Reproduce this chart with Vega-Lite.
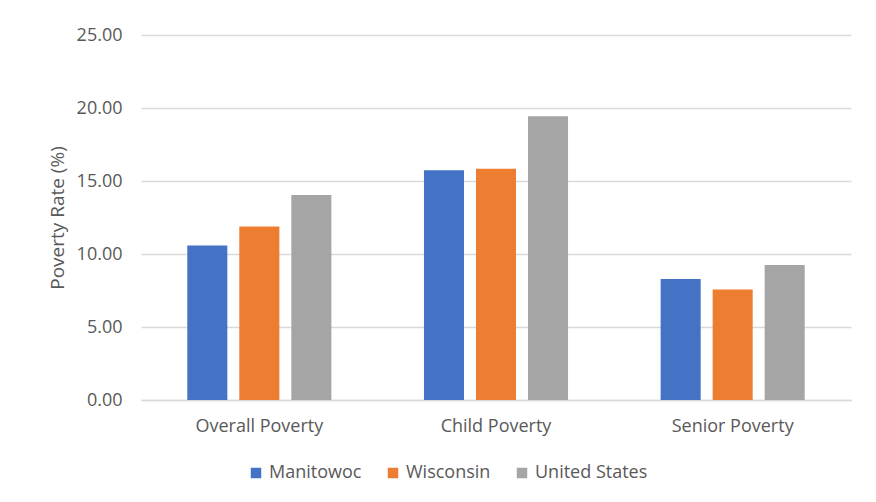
{
  "$schema": "https://vega.github.io/schema/vega-lite/v6.json",
  "width": 710,
  "height": 365,
  "autosize": {"type": "none"},
  "padding": {"left": 141, "top": 35, "right": 25, "bottom": 102},
  "background": "white",
  "data": {
    "values": [
      {"category": "Overall Poverty", "region": "Manitowoc", "rate": 10.58},
      {"category": "Overall Poverty", "region": "Wisconsin", "rate": 11.89},
      {"category": "Overall Poverty", "region": "United States", "rate": 14.04},
      {"category": "Child Poverty", "region": "Manitowoc", "rate": 15.73},
      {"category": "Child Poverty", "region": "Wisconsin", "rate": 15.84},
      {"category": "Child Poverty", "region": "United States", "rate": 19.43},
      {"category": "Senior Poverty", "region": "Manitowoc", "rate": 8.28},
      {"category": "Senior Poverty", "region": "Wisconsin", "rate": 7.57},
      {"category": "Senior Poverty", "region": "United States", "rate": 9.24}
    ]
  },
  "mark": {"type": "bar"},
  "encoding": {
    "x": {
      "field": "category",
      "type": "nominal",
      "sort": ["Overall Poverty", "Child Poverty", "Senior Poverty"],
      "scale": {"paddingInner": 0, "paddingOuter": 0},
      "axis": {
        "title": null,
        "labelAngle": 0,
        "ticks": false,
        "labelPadding": 17,
        "labelFontSize": 18,
        "labelColor": "#595959",
        "domainColor": "#d9d9d9",
        "domainWidth": 1.5,
        "grid": false
      }
    },
    "xOffset": {
      "field": "region",
      "type": "nominal",
      "sort": ["Manitowoc", "Wisconsin", "United States"],
      "scale": {"paddingInner": 0.23, "paddingOuter": 0.89}
    },
    "y": {
      "field": "rate",
      "type": "quantitative",
      "scale": {"domain": [0, 25], "nice": false},
      "axis": {
        "title": "Poverty Rate (%)",
        "titleFontSize": 19,
        "titleFontWeight": "normal",
        "titleColor": "#595959",
        "titlePadding": 9,
        "values": [0, 5, 10, 15, 20, 25],
        "format": ".2f",
        "ticks": false,
        "domain": false,
        "labelPadding": 19,
        "labelFontSize": 18,
        "labelColor": "#595959",
        "gridColor": "#d9d9d9",
        "gridWidth": 1.5
      }
    },
    "color": {
      "field": "region",
      "type": "nominal",
      "sort": ["Manitowoc", "Wisconsin", "United States"],
      "scale": {
        "domain": ["Manitowoc", "Wisconsin", "United States"],
        "range": ["#4472C4", "#ED7D31", "#A5A5A5"]
      },
      "legend": {
        "title": null,
        "orient": "none",
        "direction": "horizontal",
        "legendX": 106,
        "legendY": 429,
        "symbolType": "square",
        "symbolSize": 110,
        "symbolStrokeWidth": 0,
        "labelFontSize": 18,
        "labelColor": "#595959",
        "columnPadding": 22,
        "labelOffset": 4
      }
    }
  },
  "config": {
    "font": "Open Sans",
    "view": {"stroke": null}
  }
}
